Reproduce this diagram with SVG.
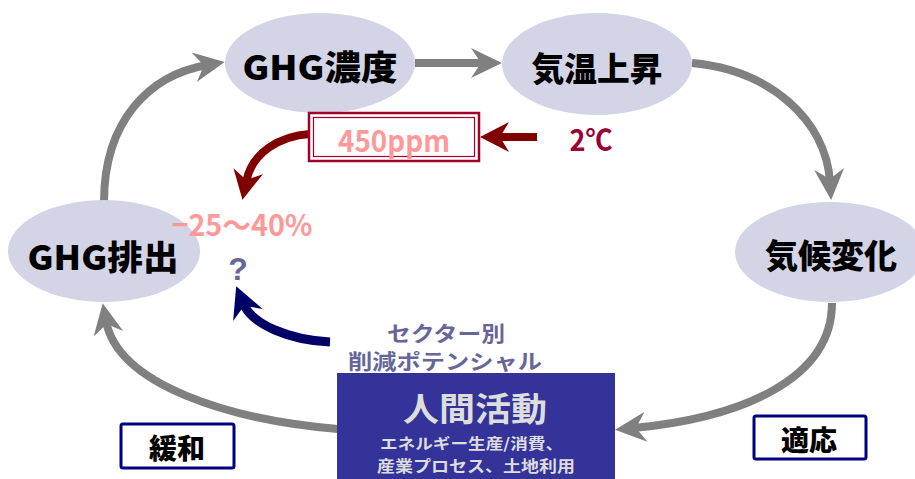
<svg xmlns="http://www.w3.org/2000/svg" width="915" height="479" viewBox="0 0 915 479">
<style>
.ell{fill:#d4d4e7}
.nt{font-family:"Noto Sans CJK JP","Liberation Sans",sans-serif;font-weight:900;fill:#000;text-anchor:middle}
.gray{fill:none;stroke:#808080;stroke-width:8}
.lbl{fill:#fff;stroke:#000080;stroke-width:3}
.sub{font-family:"Noto Sans CJK JP",sans-serif;font-weight:700;fill:#666699;text-anchor:middle}
.pink{font-family:"Noto Sans CJK JP","Liberation Sans",sans-serif;font-weight:700;fill:#ff9999;text-anchor:middle}
.hum{font-family:"Noto Sans CJK JP",sans-serif;font-weight:700;fill:#dddddd;text-anchor:middle}
</style>
<defs>
<marker id="ag" markerUnits="userSpaceOnUse" markerWidth="50" markerHeight="50" viewBox="-20 -25 50 50" refX="0" refY="0" orient="auto" overflow="visible">
<path d="M18,0 L-13,-15 L-3,0 L-13,15 Z" fill="#808080"/>
</marker>
<marker id="ar" markerUnits="userSpaceOnUse" markerWidth="50" markerHeight="50" viewBox="-20 -25 50 50" refX="0" refY="0" orient="auto" overflow="visible">
<path d="M18,0 L-11,-15 L-2,0 L-11,15 Z" fill="#800000"/>
</marker>
<marker id="an" markerUnits="userSpaceOnUse" markerWidth="50" markerHeight="50" viewBox="-20 -25 50 50" refX="0" refY="0" orient="auto" overflow="visible">
<path d="M18,0 L-13,-16 L-3,0 L-13,16 Z" fill="#000066"/>
</marker>
</defs>

<g id="connectors">
<path class="gray" d="M104,202 C104,120 150,75 207,65" marker-end="url(#ag)"/>
<path class="gray" d="M415,63 L484,63" marker-end="url(#ag)"/>
<path class="gray" d="M692,63 C770,70 826,120 830,182" marker-end="url(#ag)"/>
<path class="gray" d="M832,303 C832,380 740,418 633,428" marker-end="url(#ag)"/>
<path class="gray" d="M338,429 C230,420 118,385 106,321" marker-end="url(#ag)"/>
<path d="M537,137 L498,137" fill="none" stroke="#800000" stroke-width="8" marker-end="url(#ar)"/>
<path d="M310,134 C280,136 252,152 246,182" fill="none" stroke="#800000" stroke-width="8" marker-end="url(#ar)"/>
<path d="M330,342 C290,340 252,325 243,303" fill="none" stroke="#000066" stroke-width="9" marker-end="url(#an)"/>
</g>

<g id="ghg-conc">
<ellipse class="ell" cx="320" cy="63" rx="95" ry="50"/>
<text class="nt" x="320" y="80" font-size="34" textLength="155" lengthAdjust="spacingAndGlyphs">GHG濃度</text>
</g>
<g id="temp-rise">
<ellipse class="ell" cx="597" cy="64" rx="95" ry="51"/>
<text class="nt" x="597" y="81" font-size="33" textLength="131" lengthAdjust="spacingAndGlyphs">気温上昇</text>
</g>
<g id="climate-change">
<ellipse class="ell" cx="830" cy="252" rx="95" ry="50"/>
<text class="nt" x="831" y="268" font-size="33" textLength="132" lengthAdjust="spacingAndGlyphs">気候変化</text>
</g>
<g id="ghg-emit">
<ellipse class="ell" cx="104" cy="251" rx="96" ry="51"/>
<text class="nt" x="103" y="270" font-size="34" textLength="151" lengthAdjust="spacingAndGlyphs">GHG排出</text>
</g>

<g id="ppm">
<rect x="309" y="113" width="170" height="48" fill="#fff" stroke="#a0002a" stroke-width="2.5"/>
<rect x="313.5" y="117.5" width="161" height="39" fill="none" stroke="#a0002a" stroke-width="1.2"/>
<text class="pink" x="394" y="152" font-size="30" textLength="112" lengthAdjust="spacingAndGlyphs">450ppm</text>
</g>
<g id="two-deg">
<text x="591" y="151" font-family="Noto Sans CJK JP,Liberation Sans,sans-serif" font-weight="700" font-size="29" fill="#990033" text-anchor="middle" textLength="43" lengthAdjust="spacingAndGlyphs">2℃</text>
</g>
<g id="reduction">
<text class="pink" x="242" y="236" font-size="30" textLength="141" lengthAdjust="spacingAndGlyphs">−25〜40%</text>
</g>
<g id="question">
<text x="238" y="280" font-family="Liberation Sans,sans-serif" font-weight="700" font-size="32" fill="#666699" text-anchor="middle">?</text>
</g>
<g id="sector">
<text class="sub" x="446" y="341" font-size="21" textLength="118" lengthAdjust="spacingAndGlyphs">セクター別</text>
<text class="sub" x="445" y="369" font-size="21" textLength="194" lengthAdjust="spacingAndGlyphs">削減ポテンシャル</text>
</g>
<g id="human">
<rect x="337" y="373" width="278" height="110" fill="#333399"/>
<text class="hum" x="475" y="421" font-size="33" textLength="144" lengthAdjust="spacingAndGlyphs">人間活動</text>
<text class="hum" x="471.5" y="449" font-size="15" textLength="183" lengthAdjust="spacingAndGlyphs">エネルギー生産/消費、</text>
<text class="hum" x="476" y="472" font-size="15.5" textLength="198" lengthAdjust="spacingAndGlyphs">産業プロセス、土地利用</text>
</g>
<g id="mitigation">
<rect class="lbl" x="121" y="424" width="113" height="44" rx="2"/>
<text class="nt" x="177" y="459" font-size="28">緩和</text>
</g>
<g id="adaptation">
<rect class="lbl" x="754" y="416" width="112" height="43" rx="2"/>
<text class="nt" x="809" y="451" font-size="28">適応</text>
</g>
</svg>
